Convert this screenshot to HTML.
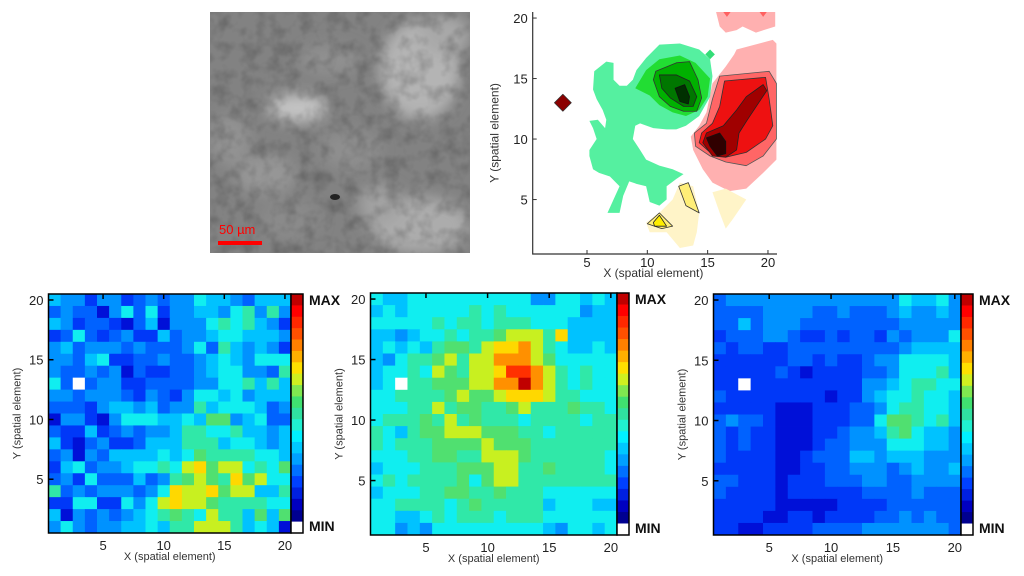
<!DOCTYPE html>
<html><head><meta charset="utf-8"><style>
html,body{margin:0;padding:0;background:#fff;}
svg{display:block;font-family:"Liberation Sans",sans-serif;}
</style></head><body>
<svg id="fig" width="1024" height="576" viewBox="0 0 1024 576" xmlns="http://www.w3.org/2000/svg">
<defs>
<filter id="semnoise" x="0" y="0" width="100%" height="100%">
<feTurbulence type="fractalNoise" baseFrequency="0.07" numOctaves="3" seed="7" result="n"/>
<feColorMatrix in="n" type="matrix" values="0 0 0 0 0  0 0 0 0 0  0 0 0 0 0  0 0 0 -1.2 0.7" result="dark"/>
<feGaussianBlur in="dark" stdDeviation="0.8" result="db"/>
<feComposite in="db" in2="SourceGraphic" operator="in"/>
</filter>
<filter id="blur6"><feGaussianBlur stdDeviation="7"/></filter>
<clipPath id="semclip"><rect x="210" y="12" width="260" height="241"/></clipPath>
</defs>
<g id="sem" clip-path="url(#semclip)">
<rect x="210" y="12" width="260" height="241" fill="#828282"/>
<g filter="url(#blur6)">
<ellipse cx="420" cy="70" rx="40" ry="50" fill="#b4b4b4"/>
<ellipse cx="445" cy="35" rx="25" ry="20" fill="#a8a8a8"/>
<ellipse cx="298" cy="108" rx="30" ry="14" fill="#c4c4c4"/>
<ellipse cx="420" cy="225" rx="50" ry="28" fill="#acacac"/>
<ellipse cx="380" cy="205" rx="22" ry="20" fill="#a2a2a2"/>
<ellipse cx="265" cy="175" rx="30" ry="20" fill="#969696"/>
<ellipse cx="230" cy="140" rx="20" ry="25" fill="#939393"/>
<ellipse cx="330" cy="60" rx="30" ry="15" fill="#909090"/>
<ellipse cx="350" cy="150" rx="30" ry="20" fill="#8e8e8e"/>
<ellipse cx="290" cy="220" rx="30" ry="20" fill="#8a8a8a"/>
</g>
<rect x="210" y="12" width="260" height="241" fill="#555" filter="url(#semnoise)" opacity="0.35"/>
<ellipse cx="335" cy="197" rx="5" ry="3" fill="#222"/>
</g>
<rect x="218" y="241" width="44" height="4" fill="#ff0000"/>
<text x="219" y="234" font-size="13" fill="#ff0000">50 µm</text>
<g id="contour"></g>
<g id="h1"></g>
<g id="h2"></g>
<g id="h3"></g>
</svg>
<script>
const NS="http://www.w3.org/2000/svg";
const W=-1;
const ticks=[5,10,15,20];
const levelColors=['#0010d8','#0038f8','#0062ff','#0092ff','#00c2ff','#10eef0','#30e8a8','#50e070','#c8f020','#ffd800','#ff9000','#ff3000','#c00000'];
const barColors=['#c00000','#ff0000','#ff2800','#ff5000','#ff8000','#ffb000','#ffe000','#d0f020','#80e850','#40e070','#30e0a0','#20f0d0','#00f0ff','#00c8ff','#00a0ff','#0070ff','#0040ff','#0020e0','#0000c0','#000090','#ffffff'];
const map1=[
[4,3,3,1,3,3,1,2,3,2,3,3,5,4,4,3,2,4,4,4],
[2,3,2,2,0,3,5,2,5,1,3,3,4,4,3,5,6,3,6,3],
[4,3,1,2,2,1,0,2,4,0,3,3,3,5,6,5,6,4,3,1],
[1,2,5,2,1,2,3,1,1,4,2,3,3,4,5,5,4,4,4,3],
[3,4,2,3,3,3,2,3,2,2,2,3,5,2,6,4,3,4,3,1],
[3,3,2,4,5,1,1,2,2,3,2,2,3,4,5,4,3,5,5,5],
[3,2,2,3,2,3,0,2,1,1,2,2,3,4,5,5,3,3,2,6],
[5,2,W,2,3,3,1,1,2,2,2,2,3,3,5,5,6,4,6,4],
[3,3,2,3,3,3,2,1,3,2,1,3,5,5,4,5,3,4,4,4],
[2,2,2,1,3,4,4,3,4,2,3,3,6,4,5,5,5,4,2,3],
[0,3,3,1,0,3,5,5,5,4,4,5,4,7,7,3,4,5,2,2],
[2,1,1,4,1,2,3,2,3,3,4,6,6,5,5,6,4,4,3,4],
[4,1,0,2,3,1,1,2,4,4,4,6,6,6,4,5,5,4,3,4],
[2,3,0,3,2,4,4,4,4,5,4,5,7,6,6,6,6,5,5,4],
[1,4,5,2,3,3,4,5,5,6,5,8,9,7,8,8,5,6,5,7],
[2,3,1,5,2,2,2,4,2,3,6,7,8,7,6,9,7,8,5,5],
[6,2,3,2,3,3,3,2,3,5,9,8,8,9,7,8,8,4,4,6],
[1,1,5,5,1,1,5,3,5,8,9,8,8,7,6,6,6,6,5,5],
[4,0,3,2,3,2,3,4,5,6,7,6,5,8,6,6,4,7,4,7],
[3,5,3,2,3,3,4,4,5,4,6,6,8,8,8,6,4,5,4,0]];
const map2=[
[5,4,4,5,5,5,5,5,5,5,5,5,5,3,3,5,5,4,5,4],
[4,5,4,5,5,5,5,5,6,5,6,5,5,5,5,5,5,3,4,4],
[5,5,5,5,5,6,5,6,6,5,6,6,6,5,5,5,4,4,4,4],
[4,4,3,4,5,5,6,5,6,6,7,8,8,8,6,9,4,4,4,4],
[4,5,4,5,4,6,7,7,6,8,9,9,10,8,6,5,4,4,5,4],
[4,3,5,6,6,7,8,6,8,8,10,10,10,8,7,5,5,5,5,5],
[4,5,5,6,5,8,7,6,8,8,9,11,11,10,8,6,5,6,5,5],
[4,5,W,6,6,7,7,7,8,8,10,10,12,10,8,6,5,6,5,5],
[5,5,6,6,6,6,7,8,7,7,8,9,9,9,8,6,6,5,5,5],
[5,5,5,6,6,8,6,7,7,6,6,7,8,6,6,6,7,6,6,5],
[5,6,6,6,7,6,8,6,7,6,6,6,5,6,6,6,6,5,6,6],
[6,5,4,6,7,7,8,8,8,7,7,7,6,6,5,6,6,6,6,6],
[6,5,6,6,6,7,7,7,7,8,7,7,7,6,6,6,6,6,6,6],
[5,5,5,6,6,7,7,6,6,8,8,8,7,6,6,6,6,6,6,5],
[4,5,5,5,6,6,6,7,7,7,8,8,6,6,7,6,6,6,6,5],
[5,6,5,6,6,6,6,7,5,7,8,8,6,6,6,6,6,6,6,6],
[4,5,5,5,6,6,7,7,6,6,7,6,6,6,5,5,5,5,5,5],
[5,5,6,6,6,6,5,6,7,6,6,6,6,6,4,5,5,5,4,4],
[5,5,4,4,5,6,5,6,6,6,5,6,6,6,5,5,5,5,5,5],
[5,5,3,4,3,5,5,5,5,5,5,5,5,5,4,3,5,5,4,5]];
const map3=[
[2,3,3,3,3,3,3,3,3,3,3,3,3,3,3,5,4,4,5,3],
[2,2,2,2,3,3,3,3,2,2,3,2,2,2,3,4,3,3,4,3],
[2,2,4,2,3,3,3,2,2,2,2,2,2,2,2,3,3,3,3,3],
[1,2,2,2,3,3,2,1,1,2,1,2,2,1,3,2,3,3,3,5],
[2,1,2,2,1,1,2,2,2,2,2,2,2,2,2,3,4,4,4,4],
[1,1,1,1,1,1,2,2,1,2,1,1,2,3,3,5,5,5,5,4],
[1,1,1,1,1,2,1,0,1,1,1,1,2,2,3,5,5,5,6,4],
[1,1,W,1,1,1,1,1,1,1,1,1,3,3,4,5,6,6,5,5],
[2,1,1,1,1,1,1,1,1,0,1,1,3,4,5,5,6,5,5,4],
[1,1,1,1,1,0,0,0,1,1,1,2,2,3,5,6,6,5,5,4],
[2,3,2,2,1,0,0,0,1,1,1,2,2,5,7,7,6,5,6,4],
[2,1,2,1,1,0,0,0,1,1,2,3,3,4,6,7,5,4,4,3],
[2,1,2,1,1,0,0,0,1,2,2,3,3,3,5,5,5,4,4,3],
[2,1,1,1,1,0,0,1,2,2,2,4,4,3,4,4,4,3,3,3],
[1,1,1,1,1,0,0,1,1,2,2,3,3,3,2,3,4,3,3,4],
[2,2,1,1,1,0,1,1,1,2,2,2,3,3,2,2,3,3,3,3],
[2,1,1,1,1,0,1,1,1,1,1,1,2,2,2,2,3,2,2,2],
[1,1,1,1,1,0,0,0,0,0,1,1,1,1,2,2,2,2,2,2],
[1,1,1,1,0,0,1,1,0,1,1,1,1,2,2,3,2,3,2,2],
[1,1,0,0,1,1,1,1,2,2,2,2,3,3,3,3,3,3,3,2]];

function mk(tag,attrs,parent){const e=document.createElementNS(NS,tag);for(const k in attrs)e.setAttribute(k,attrs[k]);parent.appendChild(e);return e;}

function heat(gid,data,L,R,T,B){
  const g=document.getElementById(gid);
  const sx=v=>L+(v-0.5)*(R-L)/20, sy=v=>B-(v-0.5)*(B-T)/20;
  for(let r=0;r<20;r++)for(let c=0;c<20;c++){
    const v=data[r][c];const yv=20-r, xv=c+1;
    const e=mk('rect',{x:sx(xv-0.5),y:sy(yv+0.5),width:sx(xv+0.5)-sx(xv-0.5)+0.4,height:sy(yv-0.5)-sy(yv+0.5)+0.4,fill:v<0?'#ffffff':levelColors[v]},g);
    
    
  }
  const fr=mk('rect',{x:L,y:T,width:R-L,height:B-T,fill:'none',stroke:'#000','stroke-width':1.5},g);
  
  
  ticks.forEach(t=>{
    mk('line',{x1:sx(t),x2:sx(t),y1:T,y2:T+5,stroke:'#000','stroke-width':1.5},g);
    mk('line',{x1:L,x2:L+5,y1:sy(t),y2:sy(t),stroke:'#000','stroke-width':1.5},g);
    const xl=mk('text',{x:sx(t),y:B+17,'font-size':13,'text-anchor':'middle',fill:'#222'},g);xl.textContent=t;
    
    
    const yl=mk('text',{x:L-5,y:sy(t)+5,'font-size':13,'text-anchor':'end',fill:'#222'},g);yl.textContent=t;
    
    
  });
  const xt=mk('text',{x:(L+R)/2,y:B+27,'font-size':11,'text-anchor':'middle',fill:'#333'},g);xt.textContent='X (spatial element)';
  
  
  const yx=L-28, yy=(T+B)/2;
  const yt=mk('text',{x:yx,y:yy,'font-size':11,'text-anchor':'middle',fill:'#333',transform:`rotate(-90 ${yx} ${yy})`},g);yt.textContent='Y (spatial element)';
  
  
  const cbL=R, cbW=12, n=barColors.length, h=(B-T)/n;
  barColors.forEach((c,i)=>{const e=mk('rect',{x:cbL,y:T+i*h,width:cbW,height:h+0.4,fill:c},g);
    
    });
  const cb=mk('rect',{x:cbL,y:T,width:cbW,height:B-T,fill:'none',stroke:'#000','stroke-width':1.5},g);
  
  
  const mx=mk('text',{x:cbL+cbW+6,y:T+11,'font-size':14,'font-weight':'bold',fill:'#111'},g);mx.textContent='MAX';
  
  
  const mn=mk('text',{x:cbL+cbW+6,y:B-2,'font-size':14,'font-weight':'bold',fill:'#111'},g);mn.textContent='MIN';
  
  
}
heat('h1',map1,48.5,291,294,533);
heat('h2',map2,370.5,617,293,535);
heat('h3',map3,713.5,961,294,535);

const mintRegion=[[5.6,15.6],[6.6,16.4],[7.2,16.3],[7.2,14.9],[7.7,14.4],[8.3,14.4],[8.8,14.9],[9.1,15.7],[9.9,16.7],[11.0,17.8],[12.7,17.9],[14.3,17.4],[15.2,16.6],[15.4,15.2],[15.2,13.5],[14.3,11.9],[13.2,11.1],[12.4,10.8],[11.6,10.8],[10.5,10.9],[9.4,11.3],[9.0,11.1],[8.8,10.0],[9.4,9.1],[9.9,8.3],[11.0,7.8],[12.1,7.5],[13.0,7.1],[12.4,6.7],[11.6,6.1],[11.6,5.0],[11.0,4.5],[10.2,4.8],[9.9,6.1],[9.1,6.3],[8.5,6.5],[8.0,5.3],[7.7,3.9],[6.7,3.9],[7.2,5.0],[7.7,6.1],[6.9,6.9],[6.0,7.2],[5.5,7.5],[5.2,8.6],[5.2,9.1],[5.8,10.0],[5.5,10.9],[5.2,11.5],[5.9,11.6],[6.5,10.9],[6.6,11.6],[6.3,12.4],[5.8,13.3],[5.5,14.1]];
const mintDot=[[15.2,17.4],[15.6,17.0],[15.2,16.6],[14.8,17.0]];
const green1=[[9.0,14.2],[9.9,15.7],[11.0,16.6],[12.7,16.9],[14.0,16.3],[15.2,15.0],[15.0,13.5],[14.3,12.4],[13.2,11.9],[12.1,12.2],[11.0,12.8],[10.2,13.6]];
const green2=[[10.7,15.6],[12.4,16.3],[13.5,16.4],[14.2,14.9],[14.5,13.4],[14.1,12.3],[13.0,12.3],[11.9,12.7],[11.0,13.5],[10.5,14.9]];
const green3=[[11.0,15.3],[12.4,15.3],[13.5,14.8],[14.1,13.5],[13.8,12.7],[13.0,12.7],[11.9,13.4],[11.2,14.2]];
const green4=[[12.3,14.2],[13.1,14.5],[13.5,13.5],[13.4,12.9],[12.7,13.1]];
const pinkTop=[[15.7,20.5],[20.6,20.5],[20.6,19.3],[19.0,18.8],[17.9,19.3],[17.4,19.0],[16.5,18.8],[16.0,19.3]];
const redTopDots=[[[16.3,20.5],[16.9,20.5],[16.6,20.1]],[[19.3,20.5],[19.9,20.5],[19.6,20.1]]];
const red1=[[17.4,17.4],[20.4,18.2],[20.7,17.9],[20.7,8.3],[19.6,7.2],[18.2,5.9],[16.8,5.7],[15.4,6.4],[14.6,7.5],[13.8,9.1],[13.6,10.2],[14.3,11.1],[14.9,12.2],[15.4,14.6],[16.5,16.0],[17.2,17.0]];
const red2=[[16.0,15.2],[20.1,15.6],[20.7,14.6],[20.7,10.0],[19.6,8.6],[18.2,7.8],[16.5,8.1],[15.2,8.6],[14.0,9.4],[13.9,10.5],[14.9,11.3],[15.4,13.3]];
const red3=[[16.4,14.8],[19.8,15.1],[20.1,13.3],[20.4,11.1],[19.8,10.0],[18.2,8.9],[16.5,8.5],[15.2,8.9],[14.3,9.7],[14.5,10.5],[15.4,11.3],[16.0,12.7]];
const red4=[[18.2,13.5],[19.6,14.5],[19.9,14.0],[18.3,11.6],[17.6,10.5],[17.4,9.1],[16.5,8.5],[15.4,8.6],[14.6,9.7],[14.9,10.5],[16.3,11.1],[17.4,12.4]];
const red5=[[14.9,10.1],[16.0,10.5],[16.5,9.8],[16.5,8.8],[15.8,8.6],[15.2,9.4]];
const yellowA=[[9.9,3.1],[11.0,3.9],[12.1,5.0],[12.7,6.4],[13.8,6.1],[14.3,3.9],[14.1,2.3],[13.8,1.2],[12.7,1.0],[11.6,2.3],[10.2,2.3]];
const yellowB=[[15.4,5.6],[16.5,5.9],[18.2,5.0],[17.1,3.4],[16.5,2.6],[16.0,3.9]];
const yellow2a=[[10.0,3.0],[11.0,3.9],[12.1,2.8],[11.2,2.6]];
const yellow2b=[[12.6,6.1],[13.4,6.4],[14.3,3.9],[13.2,4.5]];
const yellow3=[[10.5,3.1],[11.0,3.7],[11.6,2.8],[10.6,2.8]];
const markerPt=[3,13];

(function(){
  const g=document.getElementById('contour');
  const L=532.7,R=774,T=12,B=254;
  const sx=v=>L+(v-0.5)*(R-L)/20, sy=v=>B-(v-0.5)*(B-T)/20;
  const cl=mk('clipPath',{id:'cclip'},g);mk('rect',{x:L,y:T,width:R-L+3,height:B-T},cl);
  const inner=mk('g',{'clip-path':'url(#cclip)'},g);
  function poly(pts,fill,stroke,name){
    const e=mk('polygon',{points:pts.map(p=>sx(p[0])+','+sy(p[1])).join(' '),fill:fill,stroke:stroke||'none','stroke-width':0.8,'stroke-linejoin':'round'},inner);
    
    
  }
  poly(pinkTop,'#ffb0b0',null,'contour-red-level-1');
  redTopDots.forEach(d=>poly(d,'#ff6060',null,'contour-red-level-2'));
  poly(red1,'#ffb0b0',null,'contour-red-level-1');
  poly(red2,'#ff6666','#555','contour-red-level-2');
  poly(red3,'#ee1111','#333','contour-red-level-3');
  poly(red4,'#a00000','#222','contour-red-level-4');
  poly(red5,'#300000','#111','contour-red-level-5');
  poly(mintRegion,'#55f0a0',null,'contour-green-level-1');
  poly(mintDot,'#33dd77',null,'contour-green-level-1');
  poly(green1,'#22dd33',null,'contour-green-level-2');
  poly(green2,'#00b000','#333','contour-green-level-3');
  poly(green3,'#007700','#222','contour-green-level-4');
  poly(green4,'#003000','#111','contour-green-level-5');
  poly(yellowA,'#fff4c8',null,'contour-yellow-level-1');
  poly(yellowB,'#fff4c8',null,'contour-yellow-level-1');
  poly(yellow2a,'#ffee77','#333','contour-yellow-level-2');
  poly(yellow2b,'#ffee77','#333','contour-yellow-level-2');
  poly(yellow3,'#ffee00','#222','contour-yellow-level-3');
  const d=0.7;
  poly([[markerPt[0],markerPt[1]+d],[markerPt[0]+d,markerPt[1]],[markerPt[0],markerPt[1]-d],[markerPt[0]-d,markerPt[1]]],'#8b0000','#333','marker-diamond');
  const ax=mk('path',{d:`M${L} ${T} V${B} H${R+3}`,fill:'none',stroke:'#333','stroke-width':1.2},g);
  
  
  ticks.forEach(t=>{
    mk('line',{x1:sx(t),x2:sx(t),y1:B,y2:B-4,stroke:'#333'},g);
    mk('line',{x1:L,x2:L+4,y1:sy(t),y2:sy(t),stroke:'#333'},g);
    const xl=mk('text',{x:sx(t),y:B+13,'font-size':13,'text-anchor':'middle',fill:'#222'},g);xl.textContent=t;
    
    
    const yl=mk('text',{x:L-5,y:sy(t)+5,'font-size':13,'text-anchor':'end',fill:'#222'},g);yl.textContent=t;
    
    
  });
  const xt=mk('text',{x:(L+R)/2,y:B+23,'font-size':12,'text-anchor':'middle',fill:'#333'},g);xt.textContent='X (spatial element)';
  
  
  const yx=L-34, yy=(T+B)/2;
  const yt=mk('text',{x:yx,y:yy,'font-size':12,'text-anchor':'middle',fill:'#333',transform:`rotate(-90 ${yx} ${yy})`},g);yt.textContent='Y (spatial element)';
  
  
})();
</script>
</body></html>
